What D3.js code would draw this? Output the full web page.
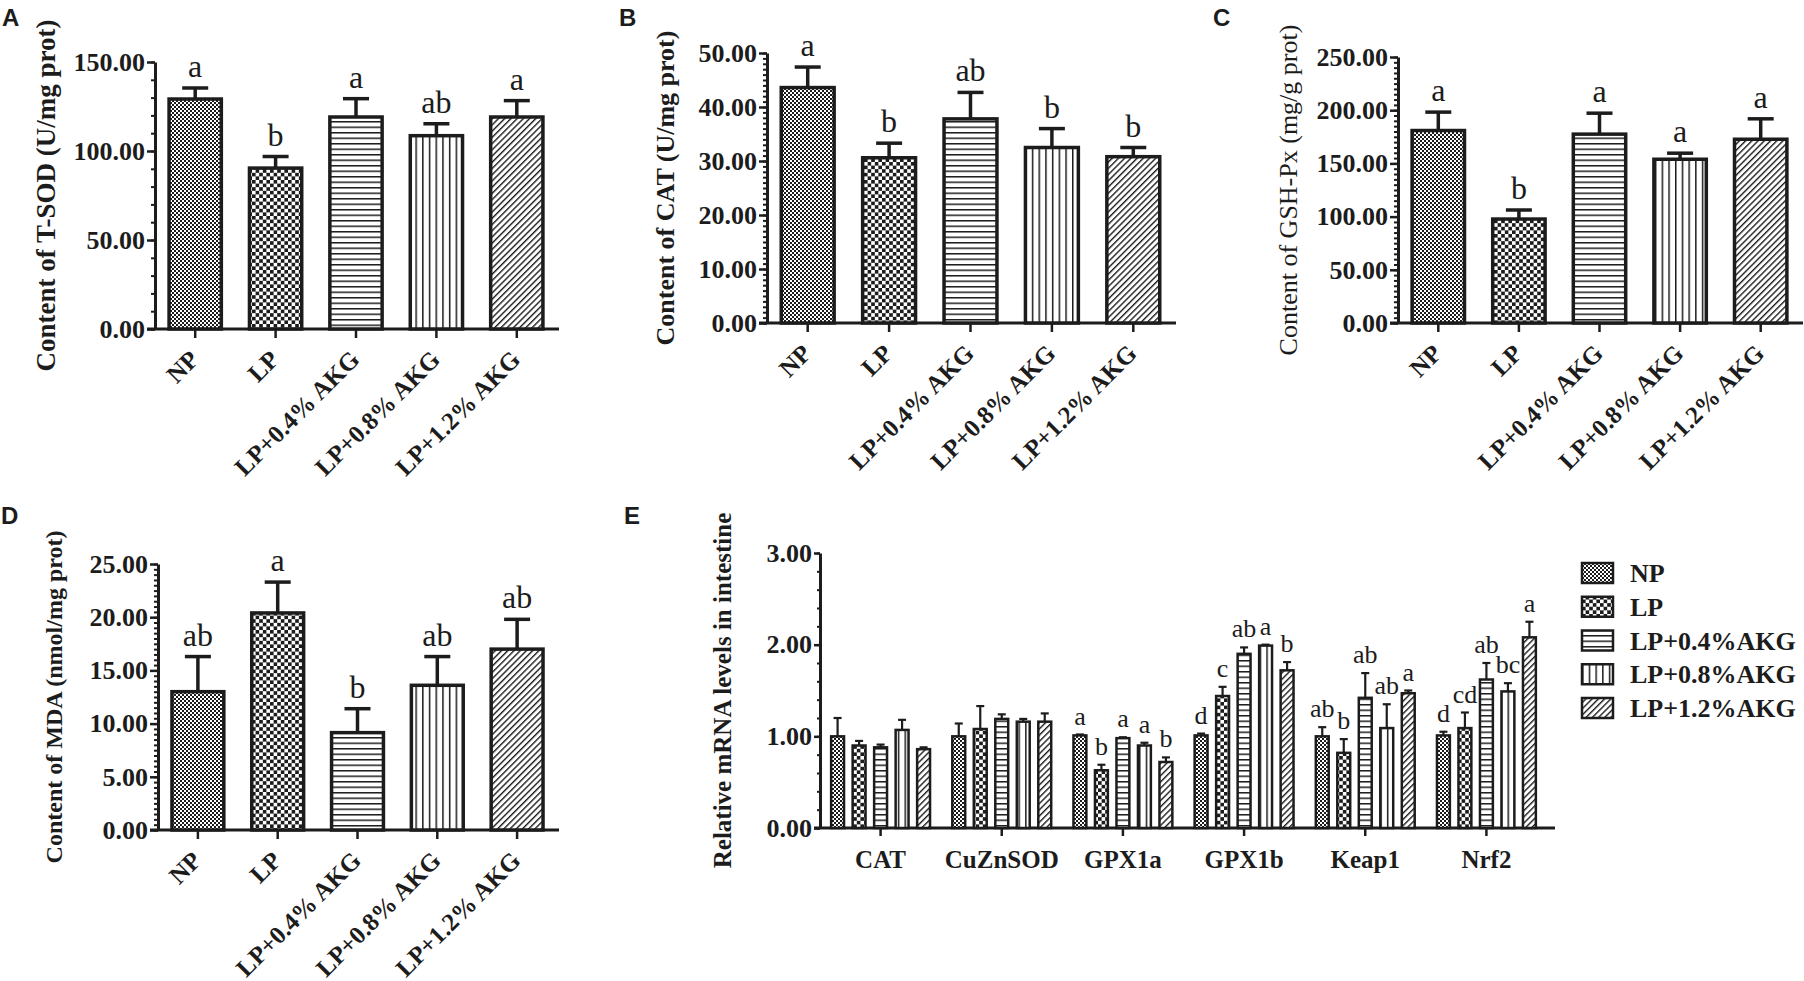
<!DOCTYPE html>
<html>
<head>
<meta charset="utf-8">
<script src="https://cdn.jsdelivr.net/npm/d3@7"></script>
<style>
  body { margin: 0; background: #fff; }
  svg { display: block; }
  text { font-family: 'Liberation Serif', 'Times New Roman', serif; fill: #1c1c1c; }
</style>
</head>
<body>
<div id="chart"></div>
<script>
// groups (x categories of A-D, series of E)
const groups = ['NP', 'LP', 'LP+0.4% AKG', 'LP+0.8% AKG', 'LP+1.2% AKG'];
const legendLabels = ['NP', 'LP', 'LP+0.4%AKG', 'LP+0.8%AKG', 'LP+1.2%AKG'];

// A: T-SOD
const sodMean = [129.2, 90.4, 119.1, 108.6, 119.1];
const sodSem = [6.2, 6.5, 10.3, 6.7, 9.2];
const sodLetters = ['a', 'b', 'a', 'ab', 'a'];
// B: CAT
const catMean = [43.6, 30.6, 37.8, 32.5, 30.8];
const catSem = [3.8, 2.7, 4.9, 3.5, 1.7];
const catLetters = ['a', 'b', 'ab', 'b', 'b'];
// C: GSH-Px
const gshMean = [180.9, 97.7, 177.5, 153.9, 172.7];
const gshSem = [17.3, 8.5, 19.7, 5.7, 19.2];
const gshLetters = ['a', 'b', 'a', 'a', 'a'];
// D: MDA
const mdaMean = [13.0, 20.4, 9.15, 13.6, 17.0];
const mdaSem = [3.3, 2.9, 2.25, 2.7, 2.8];
const mdaLetters = ['ab', 'a', 'b', 'ab', 'ab'];

// E: relative mRNA, one row per group, one column per gene
const genes = ['CAT', 'CuZnSOD', 'GPX1a', 'GPX1b', 'Keap1', 'Nrf2'];
const mrnaMean = [
  [1.00, 1.00, 1.01, 1.01, 1.00, 1.01],
  [0.90, 1.08, 0.63, 1.44, 0.82, 1.09],
  [0.88, 1.19, 0.98, 1.90, 1.42, 1.62],
  [1.07, 1.16, 0.90, 1.99, 1.09, 1.49],
  [0.86, 1.16, 0.72, 1.72, 1.47, 2.08]
];
const mrnaSem = [
  [0.20, 0.14, 0.01, 0.02, 0.10, 0.04],
  [0.05, 0.25, 0.06, 0.10, 0.15, 0.17],
  [0.03, 0.05, 0.01, 0.07, 0.27, 0.18],
  [0.11, 0.03, 0.03, 0.01, 0.26, 0.09],
  [0.02, 0.09, 0.05, 0.09, 0.03, 0.17]
];
// letters per gene, in group order
const mrnaLetters = [
  ['', '', '', '', ''],
  ['', '', '', '', ''],
  ['a', 'b', 'a', 'a', 'b'],
  ['d', 'c', 'ab', 'a', 'b'],
  ['ab', 'b', 'ab', 'ab', 'a'],
  ['d', 'cd', 'ab', 'bc', 'a']
];

const ink = '#1c1c1c';
const patternIds = ['p-np', 'p-lp', 'p-h', 'p-v', 'p-d'];

const svg = d3.select('#chart')
  .append('svg')
  .attr('width', 1804)
  .attr('height', 981);

// fill patterns
const defs = svg.append('defs');
function checker(id, c) {
  const p = defs.append('pattern').attr('id', id)
    .attr('patternUnits', 'userSpaceOnUse')
    .attr('width', 2 * c).attr('height', 2 * c);
  p.append('rect').attr('width', 2 * c).attr('height', 2 * c).attr('fill', '#fff');
  p.append('rect').attr('width', c).attr('height', c).attr('fill', ink);
  p.append('rect').attr('x', c).attr('y', c).attr('width', c).attr('height', c).attr('fill', ink);
}
function stripes(id, step, w, angle) {
  const p = defs.append('pattern').attr('id', id)
    .attr('patternUnits', 'userSpaceOnUse')
    .attr('width', step).attr('height', step)
    .attr('patternTransform', `rotate(${angle})`);
  p.append('rect').attr('width', step).attr('height', step).attr('fill', '#fff');
  p.append('rect').attr('width', w).attr('height', step).attr('fill', ink);
}
checker('p-np', 2);
checker('p-lp', 3.6);
stripes('p-h', 5.5, 1.5, 90);
stripes('p-v', 6.7, 1.5, 0);
stripes('p-d', 4.4, 1.4, 45);

// panel letters
const panelTags = [['A', 2, 26], ['B', 619, 26], ['C', 1213, 26], ['D', 1, 524], ['E', 624, 524]];
svg.selectAll('.tag')
  .data(panelTags)
  .enter()
  .append('text')
  .attr('class', 'tag')
  .attr('x', d => d[1])
  .attr('y', d => d[2])
  .style('font-family', "'Liberation Sans', Arial, sans-serif")
  .style('font-weight', 'bold')
  .style('font-size', '24px')
  .text(d => d[0]);

function yAxis(g, y, x0, major, minor, majorLen, minorLen) {
  const max = y.domain()[1];
  g.append('g')
    .attr('transform', `translate(${x0},0)`)
    .call(d3.axisLeft(y).tickValues(d3.range(0, max + minor / 2, minor)).tickSize(minorLen).tickFormat(''))
    .call(a => a.select('.domain').remove())
    .selectAll('line').attr('stroke', ink).attr('stroke-width', 2);
  const ax = g.append('g')
    .attr('transform', `translate(${x0},0)`)
    .call(d3.axisLeft(y).tickValues(d3.range(0, max + major / 2, major))
      .tickSize(majorLen).tickSizeOuter(0).tickPadding(2).tickFormat(d3.format('.2f')));
  ax.select('.domain').attr('stroke', ink).attr('stroke-width', 3);
  ax.selectAll('line').attr('stroke', ink).attr('stroke-width', 2.5);
  ax.selectAll('text')
    .style('font-size', '26px')
    .style('font-weight', 'bold')
    .style('font-family', "'Liberation Serif', 'Times New Roman', serif")
    .attr('fill', ink);
}

function yTitle(g, text, x, yc, size, bold) {
  g.append('text')
    .attr('transform', `translate(${x},${yc}) rotate(-90)`)
    .attr('text-anchor', 'middle')
    .attr('dy', '0.35em')
    .style('font-size', size + 'px')
    .style('font-weight', bold ? 'bold' : 'normal')
    .text(text);
}

// single-measure bar panels A-D
function drawPanel(p) {
  const g = svg.append('g');
  const x = d3.scaleBand().domain(groups).range([p.x0, p.x1]).paddingInner(0.35).paddingOuter(0.175);
  const y = d3.scaleLinear().domain([0, p.max]).range([p.yb, p.yt]);
  const data = groups.map((k, i) => ({ k, i, mean: p.mean[i], sem: p.sem[i], letter: p.letters[i] }));
  const cx = d => x(d.k) + x.bandwidth() / 2;

  yAxis(g, y, p.x0, p.major, p.minor, 8, 4);

  // x axis line and ticks
  g.append('line')
    .attr('x1', p.x0 - 8).attr('x2', p.x1 + 2)
    .attr('y1', p.yb).attr('y2', p.yb)
    .attr('stroke', ink).attr('stroke-width', 3);
  g.selectAll('.xt').data(data).enter().append('line')
    .attr('x1', cx).attr('x2', cx)
    .attr('y1', p.yb).attr('y2', p.yb + 9)
    .attr('stroke', ink).attr('stroke-width', 2.5);
  g.selectAll('.xl').data(data).enter().append('text')
    .attr('transform', d => `translate(${cx(d) + 5},${p.yb + 32}) rotate(-45)`)
    .attr('text-anchor', 'end')
    .style('font-size', '25px')
    .style('font-weight', 'bold')
    .text(d => d.k);

  // error bars
  const err = g.selectAll('.err').data(data).enter().append('g');
  err.append('line')
    .attr('x1', cx).attr('x2', cx)
    .attr('y1', d => y(d.mean)).attr('y2', d => y(d.mean + d.sem))
    .attr('stroke', ink).attr('stroke-width', 3.5);
  err.append('line')
    .attr('x1', d => cx(d) - 13).attr('x2', d => cx(d) + 13)
    .attr('y1', d => y(d.mean + d.sem)).attr('y2', d => y(d.mean + d.sem))
    .attr('stroke', ink).attr('stroke-width', 3.5);

  // bars
  g.selectAll('.bar').data(data).enter().append('rect')
    .attr('x', d => x(d.k))
    .attr('y', d => y(d.mean))
    .attr('width', x.bandwidth())
    .attr('height', d => p.yb - y(d.mean))
    .attr('fill', d => `url(#${patternIds[d.i]})`)
    .attr('stroke', ink).attr('stroke-width', 3.5);

  // significance letters
  g.selectAll('.sig').data(data).enter().append('text')
    .attr('x', cx)
    .attr('y', d => y(d.mean + d.sem) - 11)
    .attr('text-anchor', 'middle')
    .style('font-size', '32px')
    .text(d => d.letter);

  yTitle(g, p.title, p.tx, (p.yb + p.yt) / 2, p.tsize, p.bold);
}

drawPanel({ mean: sodMean, sem: sodSem, letters: sodLetters, max: 150, major: 50, minor: 10,
  x0: 155, x1: 557, yb: 329, yt: 62, tx: 46, title: 'Content of T-SOD (U/mg prot)', tsize: 27, bold: true });
drawPanel({ mean: catMean, sem: catSem, letters: catLetters, max: 50, major: 10, minor: 1,
  x0: 767, x1: 1174, yb: 323, yt: 53, tx: 665, title: 'Content of CAT (U/mg prot)', tsize: 26, bold: true });
drawPanel({ mean: gshMean, sem: gshSem, letters: gshLetters, max: 250, major: 50, minor: 5,
  x0: 1398, x1: 1801, yb: 323, yt: 57, tx: 1288, title: 'Content of GSH-Px (mg/g prot)', tsize: 26, bold: false });
drawPanel({ mean: mdaMean, sem: mdaSem, letters: mdaLetters, max: 25, major: 5, minor: 0.5,
  x0: 158, x1: 557, yb: 830, yt: 564, tx: 54, title: 'Content of MDA (nmol/mg prot)', tsize: 24, bold: true });

// E: grouped bars
(function drawMrna() {
  const g = svg.append('g');
  const ex0 = 820, ex1 = 1547, eyb = 828, eyt = 553;
  const x0 = d3.scaleBand().domain(genes).range([ex0, ex1]);
  const x1 = d3.scaleBand().domain(groups).range([-53.75, 53.75]).paddingInner(0.4).paddingOuter(0.2);
  const y = d3.scaleLinear().domain([0, 3]).range([eyb, eyt]);
  const gc = gene => x0(gene) + x0.bandwidth() / 2;

  yAxis(g, y, ex0, 1, 0.2, 6, 3);

  g.append('line')
    .attr('x1', ex0 - 6).attr('x2', ex1 + 8)
    .attr('y1', eyb).attr('y2', eyb)
    .attr('stroke', ink).attr('stroke-width', 3);
  g.selectAll('.xt').data(genes).enter().append('line')
    .attr('x1', gc).attr('x2', gc)
    .attr('y1', eyb).attr('y2', eyb + 8)
    .attr('stroke', ink).attr('stroke-width', 2.5);
  g.selectAll('.xl').data(genes).enter().append('text')
    .attr('x', gc)
    .attr('y', 868)
    .attr('text-anchor', 'middle')
    .style('font-size', '25px')
    .style('font-weight', 'bold')
    .text(d => d);

  const data = [];
  genes.forEach((gene, j) => groups.forEach((k, i) => {
    data.push({ gene, k, i, mean: mrnaMean[i][j], sem: mrnaSem[i][j], letter: mrnaLetters[j][i] });
  }));
  const cx = d => gc(d.gene) + x1(d.k) + x1.bandwidth() / 2;

  const err = g.selectAll('.err').data(data).enter().append('g');
  err.append('line')
    .attr('x1', cx).attr('x2', cx)
    .attr('y1', d => y(d.mean)).attr('y2', d => y(d.mean + d.sem))
    .attr('stroke', ink).attr('stroke-width', 2.2);
  err.append('line')
    .attr('x1', d => cx(d) - 4).attr('x2', d => cx(d) + 4)
    .attr('y1', d => y(d.mean + d.sem)).attr('y2', d => y(d.mean + d.sem))
    .attr('stroke', ink).attr('stroke-width', 2.2);

  g.selectAll('.bar').data(data).enter().append('rect')
    .attr('x', d => gc(d.gene) + x1(d.k))
    .attr('y', d => y(d.mean))
    .attr('width', x1.bandwidth())
    .attr('height', d => eyb - y(d.mean))
    .attr('fill', d => `url(#${patternIds[d.i]})`)
    .attr('stroke', ink).attr('stroke-width', 2.5);

  g.selectAll('.sig').data(data).enter().append('text')
    .attr('x', cx)
    .attr('y', d => y(d.mean + d.sem) - 10)
    .attr('text-anchor', 'middle')
    .style('font-size', '26px')
    .text(d => d.letter);

  yTitle(g, 'Relative mRNA levels in intestine', 722, (eyb + eyt) / 2, 25, true);

  // legend
  const lg = g.selectAll('.leg').data(legendLabels).enter().append('g')
    .attr('transform', (d, i) => `translate(1582,${573 + i * 33.75})`);
  lg.append('rect')
    .attr('x', 0).attr('y', -10)
    .attr('width', 31).attr('height', 20)
    .attr('fill', (d, i) => `url(#${patternIds[i]})`)
    .attr('stroke', ink).attr('stroke-width', 2.5);
  lg.append('text')
    .attr('x', 48).attr('y', 9)
    .style('font-size', '26px')
    .style('font-weight', 'bold')
    .text(d => d);
})();
</script>
</body>
</html>
